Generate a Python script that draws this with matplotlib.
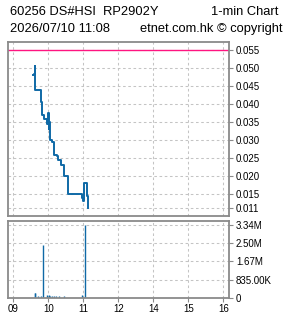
import numpy as np
import matplotlib
matplotlib.use("Agg")
import matplotlib.pyplot as plt
from matplotlib.ticker import FixedLocator

# price steps (time, price)
price_times = ["09:33", "09:36", "09:37", "09:38", "09:48", "09:50", "09:52", "09:57",
               "10:00", "10:01", "10:02", "10:03", "10:07", "10:09", "10:10", "10:15",
               "10:17", "10:21", "10:27", "10:33", "10:34", "10:57", "10:59", "11:02",
               "11:07", "11:08"]
prices = [0.0480, 0.0485, 0.0505, 0.0440, 0.0405, 0.0370, 0.0360, 0.0345,
          0.0375, 0.0330, 0.0350, 0.0300, 0.0295, 0.0290, 0.0260, 0.0255,
          0.0245, 0.0230, 0.0200, 0.0175, 0.0150, 0.0140, 0.0130, 0.0180,
          0.0145, 0.0110]
upper_limit = 0.055

vol_times = ["09:37", "09:38", "09:43", "09:47", "09:51", "09:58", "10:01", "10:03",
             "10:07", "10:09", "10:13", "10:18", "10:27", "10:58", "11:03"]
volumes = [0.22e6, 0.22e6, 0.08e6, 0.08e6, 2.42e6, 0.12e6, 0.12e6, 0.10e6,
           0.11e6, 0.08e6, 0.10e6, 0.10e6, 0.10e6, 0.12e6, 3.34e6]

xtick_labels = ["09", "10", "11", "12", "14", "15", "16"]
price_ticks = [0.055, 0.050, 0.045, 0.040, 0.035, 0.030, 0.025, 0.020, 0.015, 0.011]
vol_ticks = [0, 835000, 1670000, 2500000, 3340000]
vol_tick_labels = ["0", "835.00K", "1.67M", "2.50M", "3.34M"]


def to_x(t):
    h, m = map(int, t.split(":"))
    mins = (h - 9) * 60 + m
    if h >= 13:
        mins -= 60
    return mins


px = [to_x(t) for t in price_times]
vx = [to_x(t) for t in vol_times]

plt.rcParams['font.family'] = ['Liberation Sans', 'DejaVu Sans']
gray = "#8a8a8a"
grid_kw = dict(color="#c4c4c4", linestyle=(0, (2.5, 2.5)), linewidth=0.75)
blue = "#0f69a6"

fig = plt.figure(figsize=(2.85, 3.18), dpi=100)
ax1 = fig.add_axes([0.029, 0.3208, 0.7745, 0.5472])
ax2 = fig.add_axes([0.029, 0.0629, 0.7745, 0.2421])

for ax in (ax1, ax2):
    ax.set_xlim(-8.6, 369.8)
    ax.xaxis.set_major_locator(FixedLocator([0, 60, 120, 180, 240, 300, 360]))
    ax.grid(True, **grid_kw)
    ax.set_axisbelow(True)
    for s in ax.spines.values():
        s.set_color(gray)
        s.set_linewidth(1.3)
    ax.yaxis.tick_right()
    ax.tick_params(axis='y', direction='out', length=3, width=0.8, color=gray,
                   labelsize=7, pad=2)

# price panel
ax1.axhline(upper_limit, color="#ff1480", linewidth=1.0)
ax1.plot(px, prices, drawstyle='steps-post', color=blue, linewidth=1.4)
ax1.set_ylim(0.0089, 0.0573)
ax1.set_yticks(price_ticks)
ax1.set_yticklabels([f"{v:.3f}" for v in price_ticks])
ax1.tick_params(axis='x', length=0, labelbottom=False)

# volume panel
ax2.vlines(vx, 0, volumes, color=blue, linewidth=1.0)
ax2.set_ylim(0, 3.52e6)
ax2.set_yticks(vol_ticks)
ax2.set_yticklabels(vol_tick_labels)
ax2.set_xticklabels(xtick_labels)
ax2.tick_params(axis='x', direction='out', length=3, width=0.8, color=gray,
                labelsize=7, pad=1.5)

fig.text(10 / 285, 1 - 12 / 318, "60256 DS#HSI  RP2902Y", fontsize=9.3, va='center', ha='left')
fig.text(278 / 285, 1 - 12 / 318, "1-min Chart", fontsize=9.3, va='center', ha='right')
fig.text(10 / 285, 1 - 29 / 318, "2026/07/10 11:08", fontsize=9.3, va='center', ha='left')
fig.text(282 / 285, 1 - 29 / 318, "etnet.com.hk \u00a9 copyright", fontsize=9.3, va='center', ha='right')

fig.savefig("out.png", dpi=100, facecolor="white")
